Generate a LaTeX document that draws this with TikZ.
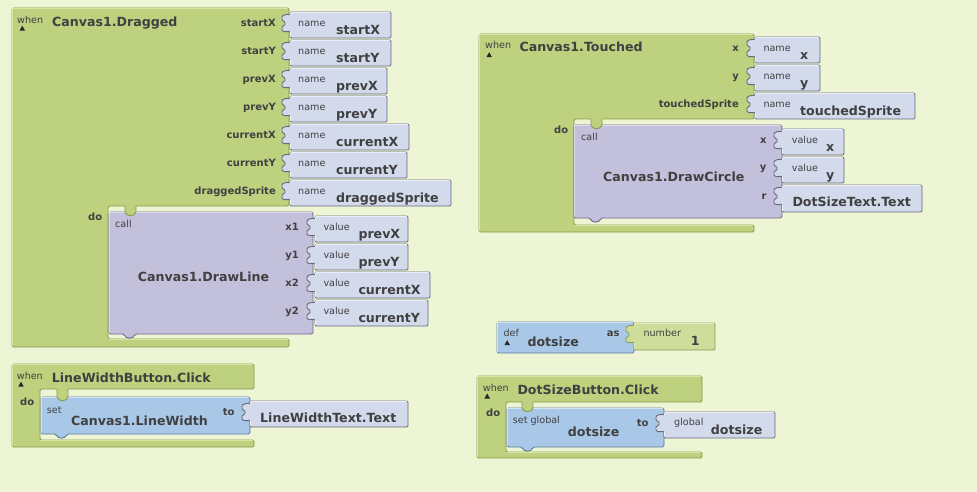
\documentclass[tikz,border=0pt]{standalone}
\usepackage{fontspec}
\setmainfont{DejaVu Sans}
\definecolor{bg}{HTML}{EEF5D5}
\definecolor{gfill}{HTML}{BED17F}
\definecolor{gedge}{HTML}{8A9A4E}
\definecolor{ghi}{HTML}{D8E6A4}
\definecolor{pfill}{HTML}{C3C0DC}
\definecolor{pedge}{HTML}{6E6A8A}
\definecolor{phi}{HTML}{DEDCEE}
\definecolor{vfill}{HTML}{D3DAEC}
\definecolor{vedge}{HTML}{66697A}
\definecolor{vhi}{HTML}{ECEFF8}
\definecolor{bfill}{HTML}{A9C8E8}
\definecolor{bedge}{HTML}{5F7C9C}
\definecolor{bhi}{HTML}{D0E2F4}
\definecolor{nfill}{HTML}{CFDD9A}
\definecolor{nedge}{HTML}{8E9C55}
\definecolor{nhi}{HTML}{E4EDC0}
\definecolor{txt}{HTML}{404040}
\tikzset{
  big/.style={font=\fontsize{12.6}{14}\selectfont\bfseries, text=txt, inner sep=0pt},
  lab/.style={font=\fontsize{10}{12}\selectfont\bfseries, text=txt, inner sep=0pt},
  sml/.style={font=\fontsize{9.6}{11}\selectfont, text=txt, inner sep=0pt},
  gblk/.style={fill=gfill, draw=gedge, line width=0.9pt, rounded corners=1.5pt},
  pblk/.style={fill=pfill, draw=pedge, line width=0.9pt, rounded corners=1.5pt},
  vblkst/.style={fill=vfill, draw=vedge, line width=0.9pt, rounded corners=1.2pt},
  bblk/.style={fill=bfill, draw=bedge, line width=0.9pt, rounded corners=1.5pt},
  nblk/.style={fill=nfill, draw=nedge, line width=0.9pt, rounded corners=1.2pt},
  hil/.style={line width=0.9pt, line cap=round},
  tri/.style={fill=black!85}
}
% value block with left puzzle tab: style, L, T, R, H, highlight colour
\newcommand\vblk[6]{%
  \filldraw[#1] (#2,#3) -- (#4,#3) -- (#4,#3+#5) -- (#2,#3+#5) -- (#2,#3+19)
   .. controls (#2-3,#3+20) and (#2-8,#3+20) .. (#2-8,#3+16.5)
   .. controls (#2-8,#3+13.5) and (#2-5,#3+13.5) .. (#2-5,#3+11.5)
   .. controls (#2-5,#3+9.5) and (#2-8,#3+9.5) .. (#2-8,#3+6.5)
   .. controls (#2-8,#3+3) and (#2-3,#3+2) .. (#2,#3+3) -- cycle;
  \draw[hil, #6] (#2+1,#3+0.9) -- (#4-1.5,#3+0.9);
  \draw[hil, #6] (#2+0.9,#3+1) -- (#2+0.9,#3+2.5);
  \draw[hil, #6] (#2+0.9,#3+20) -- (#2+0.9,#3+#5-1.5);}
% statement block with bottom bump: style, L, T, R, B, nx, highlight colour
\newcommand\sblk[7]{%
  \filldraw[#1] (#2,#3) -- (#4,#3) -- (#4,#5) -- (#6+11,#5)
   .. controls (#6+9,#5+5) and (#6+2,#5+5) .. (#6,#5) -- (#2,#5) -- cycle;
  \draw[hil, #7] (#2+0.9,#5-1.5) -- (#2+0.9,#3+0.9) -- (#4-1.5,#3+0.9);}
% C-shaped event block: x0,y0,x1,yh,xs,yb,y1
\newcommand\cblk[7]{%
  \filldraw[gblk] (#1,#2) -- (#3,#2) -- (#3,#4) -- (#5,#4) -- (#5,#6) -- (#3,#6) -- (#3,#7) -- (#1,#7) -- cycle;
  \draw[hil, ghi] (#1+0.9,#7-1.5) -- (#1+0.9,#2+0.9) -- (#3-1.5,#2+0.9);
  \draw[hil, ghi] (#5+1,#6+0.9) -- (#3-1.5,#6+0.9);}
% green tab hanging into the statement notch: nx, yh, T
\newcommand\gtab[3]{%
  \fill[gfill] (#1,#2-1.5) -- (#1,#3) .. controls (#1+2,#3+5) and (#1+9,#3+5) .. (#1+11,#3) -- (#1+11,#2-1.5) -- cycle;
  \draw[gedge, line width=0.9pt] (#1,#2) -- (#1,#3) .. controls (#1+2,#3+5) and (#1+9,#3+5) .. (#1+11,#3) -- (#1+11,#2);}
\newcommand\wtri[2]{\fill[tri] (#1-2.8,#2+2.2) -- (#1+2.8,#2+2.2) -- (#1,#2-2.8) -- cycle;}
\begin{document}
\begin{tikzpicture}[x=1pt,y=-1pt]
\path[use as bounding box, fill=bg] (0,0) rectangle (977,492);

% ---------- Canvas1.Dragged ----------
\cblk{12}{8}{289}{206}{108}{339}{347}
\sblk{pblk}{109}{212}{313}{334}{124}{phi}
\gtab{125}{206}{212}
\node[sml, anchor=base west] (w1) at (17,23.3) {when};
\wtri{22.3}{28.5}
\node[big, anchor=base west] (t1) at (52,26.5) {Canvas1.Dragged};
\foreach \k/\lbl/\R [count=\i] in {0/startX/391,1/startY/391,2/prevX/387,3/prevY/387,4/currentX/409,5/currentY/407,6/draggedSprite/451}{
  \pgfmathsetmacro\T{12+28*\k}
  \vblk{vblkst}{290}{\T}{\R}{26}{vhi}
  \node[lab, anchor=base east] (p1\i) at (276,\T+14.6) {\lbl};
  \node[sml, anchor=base west] (n1\i) at (298,\T+14.7) {name};
  \node[big, anchor=base west] (v1\i) at (336,\T+22.3) {\lbl};
}
\node[lab, anchor=base west] (d1) at (88,220.7) {do};
\node[sml, anchor=base west] (c1) at (115,227.5) {call};
\node[big, anchor=base] (m1) at (203.5,281.5) {Canvas1.DrawLine};
\foreach \k/\lbl/\val/\R [count=\i] in {0/x1/prevX/408,1/y1/prevY/408,2/x2/currentX/430,3/y2/currentY/428}{
  \pgfmathsetmacro\T{216+28*\k}
  \vblk{vblkst}{315}{\T}{\R}{26}{vhi}
  \node[lab, anchor=base east] (q1\i) at (299,\T+14) {\lbl};
  \node[sml, anchor=base west] (u1\i) at (323.3,\T+14.7) {value};
  \node[big, anchor=base west] (r1\i) at (358.3,\T+22.3) {\val};
}

% ---------- LineWidthButton.Click ----------
\cblk{12}{364}{254}{389}{40}{440}{447}
\sblk{bblk}{41}{397}{250}{434}{56}{bhi}
\gtab{57}{389}{397}
\node[sml, anchor=base west] (w2) at (16.7,379) {when};
\wtri{21}{384.5}
\node[big, anchor=base west] (t2) at (51.7,382.7) {LineWidthButton.Click};
\node[lab, anchor=base west] (d2) at (20,405.7) {do};
\node[sml, anchor=base west] (s2) at (46.7,413.3) {set};
\node[big, anchor=base west] (m2) at (71,425) {Canvas1.LineWidth};
\node[lab, anchor=base west] (to2) at (222.7,415) {to};
\vblk{vblkst}{250}{401}{408}{26}{vhi}
\node[big, anchor=base west] (v2) at (260,422.7) {LineWidthText.Text};

% ---------- Canvas1.Touched ----------
\cblk{479}{34}{754}{119}{574}{225}{232}
\sblk{pblk}{574}{125}{782}{218}{590}{phi}
\gtab{591}{119}{125}
\node[sml, anchor=base west] (w3) at (485,48.3) {when};
\wtri{489.2}{55}
\node[big, anchor=base west] (t3) at (519.3,51.7) {Canvas1.Touched};
\foreach \k/\lbl/\R [count=\i] in {0/x/820,1/y/820,2/touchedSprite/915}{
  \pgfmathsetmacro\T{37+28*\k}
  \vblk{vblkst}{755}{\T}{\R}{26}{vhi}
  \node[lab, anchor=base east] (p3\i) at (739,\T+14.6) {\lbl};
  \node[sml, anchor=base west] (n3\i) at (763.3,\T+14.7) {name};
  \node[big, anchor=base west] (v3\i) at (800,\T+22.3) {\lbl};
}
\node[lab, anchor=base west] (d3) at (554,134) {do};
\node[sml, anchor=base west] (c3) at (581,141) {call};
\node[big, anchor=base] (m3) at (673.8,181.7) {Canvas1.DrawCircle};
\foreach \k/\lbl/\R [count=\i] in {0/x/844,1/y/844}{
  \pgfmathsetmacro\T{129+28*\k}
  \vblk{vblkst}{782}{\T}{\R}{26}{vhi}
  \node[lab, anchor=base east] (q3\i) at (766.7,\T+14) {\lbl};
  \node[sml, anchor=base west] (u3\i) at (791.7,\T+14.7) {value};
  \node[big, anchor=base west] (r3\i) at (826,\T+22.3) {\lbl};
}
\vblk{vblkst}{782}{185}{922}{27}{vhi}
\node[lab, anchor=base east] (q33) at (766.7,199) {r};
\node[big, anchor=base west] (r33) at (792.3,206.7) {DotSizeText.Text};

% ---------- def dotsize ----------
\filldraw[bblk] (497,322) rectangle (634,353);
\draw[hil, bhi] (497.9,351.5) -- (497.9,322.9) -- (632.5,322.9);
\vblk{nblk}{634}{323}{715}{27}{nhi}
\node[sml, anchor=base west] (df) at (503.3,336.7) {def};
\wtri{507.2}{343}
\node[big, anchor=base west] (dn) at (527.3,346.7) {dotsize};
\node[lab, anchor=base west] (as) at (606.7,336.7) {as};
\node[sml, anchor=base west] (nm) at (643.3,336.7) {number};
\node[big, anchor=base west] (one) at (690.7,345) {1};

% ---------- DotSizeButton.Click ----------
\cblk{477}{376}{702}{402}{506}{452}{458}
\sblk{bblk}{507}{408}{664}{447}{522}{bhi}
\gtab{522}{402}{408}
\node[sml, anchor=base west] (w5) at (482.7,391) {when};
\wtri{487.2}{396.3}
\node[big, anchor=base west] (t5) at (517.3,394) {DotSizeButton.Click};
\node[lab, anchor=base west] (d5) at (486,416.7) {do};
\node[sml, anchor=base west] (s5) at (512.7,423.3) {set global};
\node[big, anchor=base west] (m5) at (567.7,436) {dotsize};
\node[lab, anchor=base west] (to5) at (636.7,426.7) {to};
\vblk{vblkst}{664}{412}{775}{26}{vhi}
\node[sml, anchor=base west] (g5) at (674,425) {global};
\node[big, anchor=base west] (v5) at (710.7,434) {dotsize};
\end{tikzpicture}
\end{document}
